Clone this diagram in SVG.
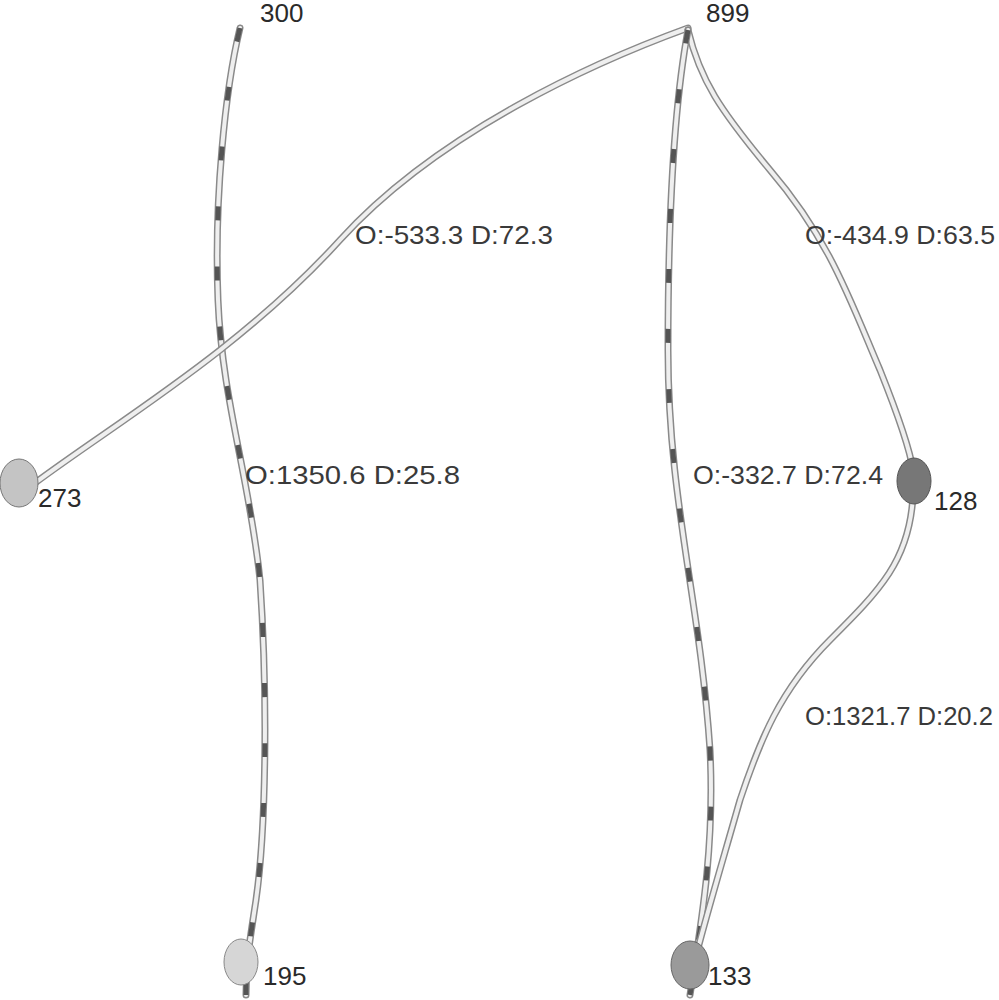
<svg xmlns="http://www.w3.org/2000/svg" width="999" height="1000" viewBox="0 0 999 1000">
<style>
.outer{fill:none;stroke:#8a8a8a;stroke-width:7;stroke-linecap:round}
.inner{fill:none;stroke:#efefef;stroke-width:4;stroke-linecap:round}
.dash{fill:none;stroke:#555;stroke-width:5;stroke-dasharray:14 46}
.lbl{font-family:"Liberation Sans",Arial,sans-serif;font-size:26px;fill:#3a3a3a}
.nlbl{font-family:"Liberation Sans",Arial,sans-serif;font-size:26px;fill:#2a2a2a}
</style>
<rect width="999" height="1000" fill="#fff"/>
<g id="connectors">
<g id="e300-195">
<path class="outer" d="M240,28 C225,90 214,200 218,300 C222,400 250,480 260,580 C268,700 266,830 256,900 C250,940 246,960 246,995"/>
<path class="inner" d="M240,28 C225,90 214,200 218,300 C222,400 250,480 260,580 C268,700 266,830 256,900 C250,940 246,960 246,995"/>
<path class="dash" d="M240,28 C225,90 214,200 218,300 C222,400 250,480 260,580 C268,700 266,830 256,900 C250,940 246,960 246,995"/>
</g>
<g id="e899-273">
<path class="outer" d="M688,28 C600,60 440,130 340,240 C240,350 120,420 35,483"/>
<path class="inner" d="M688,28 C600,60 440,130 340,240 C240,350 120,420 35,483"/>
</g>
<g id="e899-128">
<path class="outer" d="M688,30 C700,80 720,110 770,170 C830,240 850,300 880,370 C900,420 910,450 913,470"/>
<path class="inner" d="M688,30 C700,80 720,110 770,170 C830,240 850,300 880,370 C900,420 910,450 913,470"/>
</g>
<g id="e899-133">
<path class="outer" d="M688,30 C675,100 668,200 668,350 C668,500 700,600 710,750 C715,850 700,930 690,995"/>
<path class="inner" d="M688,30 C675,100 668,200 668,350 C668,500 700,600 710,750 C715,850 700,930 690,995"/>
<path class="dash" d="M688,30 C675,100 668,200 668,350 C668,500 700,600 710,750 C715,850 700,930 690,995"/>
</g>
<g id="e128-133">
<path class="outer" d="M913,495 C910,560 880,590 830,640 C780,690 760,740 740,800 C720,870 705,920 695,960"/>
<path class="inner" d="M913,495 C910,560 880,590 830,640 C780,690 760,740 740,800 C720,870 705,920 695,960"/>
</g>
</g>
<g id="edge-labels">
<text class="lbl" x="355" y="244" textLength="198" lengthAdjust="spacingAndGlyphs">O:-533.3 D:72.3</text>
<text class="lbl" x="805" y="244" textLength="190" lengthAdjust="spacingAndGlyphs">O:-434.9 D:63.5</text>
<text class="lbl" x="245" y="484" textLength="215" lengthAdjust="spacingAndGlyphs">O:1350.6 D:25.8</text>
<text class="lbl" x="693" y="484" textLength="190" lengthAdjust="spacingAndGlyphs">O:-332.7 D:72.4</text>
<text class="lbl" x="805" y="725" textLength="188" lengthAdjust="spacingAndGlyphs">O:1321.7 D:20.2</text>
</g>
<g id="n300"><text class="nlbl" x="260" y="22">300</text></g>
<g id="n899"><text class="nlbl" x="706" y="22">899</text></g>
<g id="n273"><ellipse cx="19" cy="483" rx="19" ry="24" fill="#c4c4c4" stroke="#777" stroke-width="1"/><text class="nlbl" x="38" y="507">273</text></g>
<g id="n128"><ellipse cx="914" cy="481" rx="17" ry="23" fill="#777" stroke="#555" stroke-width="1"/><text class="nlbl" x="934" y="510">128</text></g>
<g id="n195"><ellipse cx="241" cy="962" rx="17" ry="23" fill="#d6d6d6" stroke="#888" stroke-width="1"/><text class="nlbl" x="263" y="985">195</text></g>
<g id="n133"><ellipse cx="690" cy="965" rx="19" ry="24" fill="#9a9a9a" stroke="#666" stroke-width="1"/><text class="nlbl" x="708" y="985">133</text></g>
</svg>
